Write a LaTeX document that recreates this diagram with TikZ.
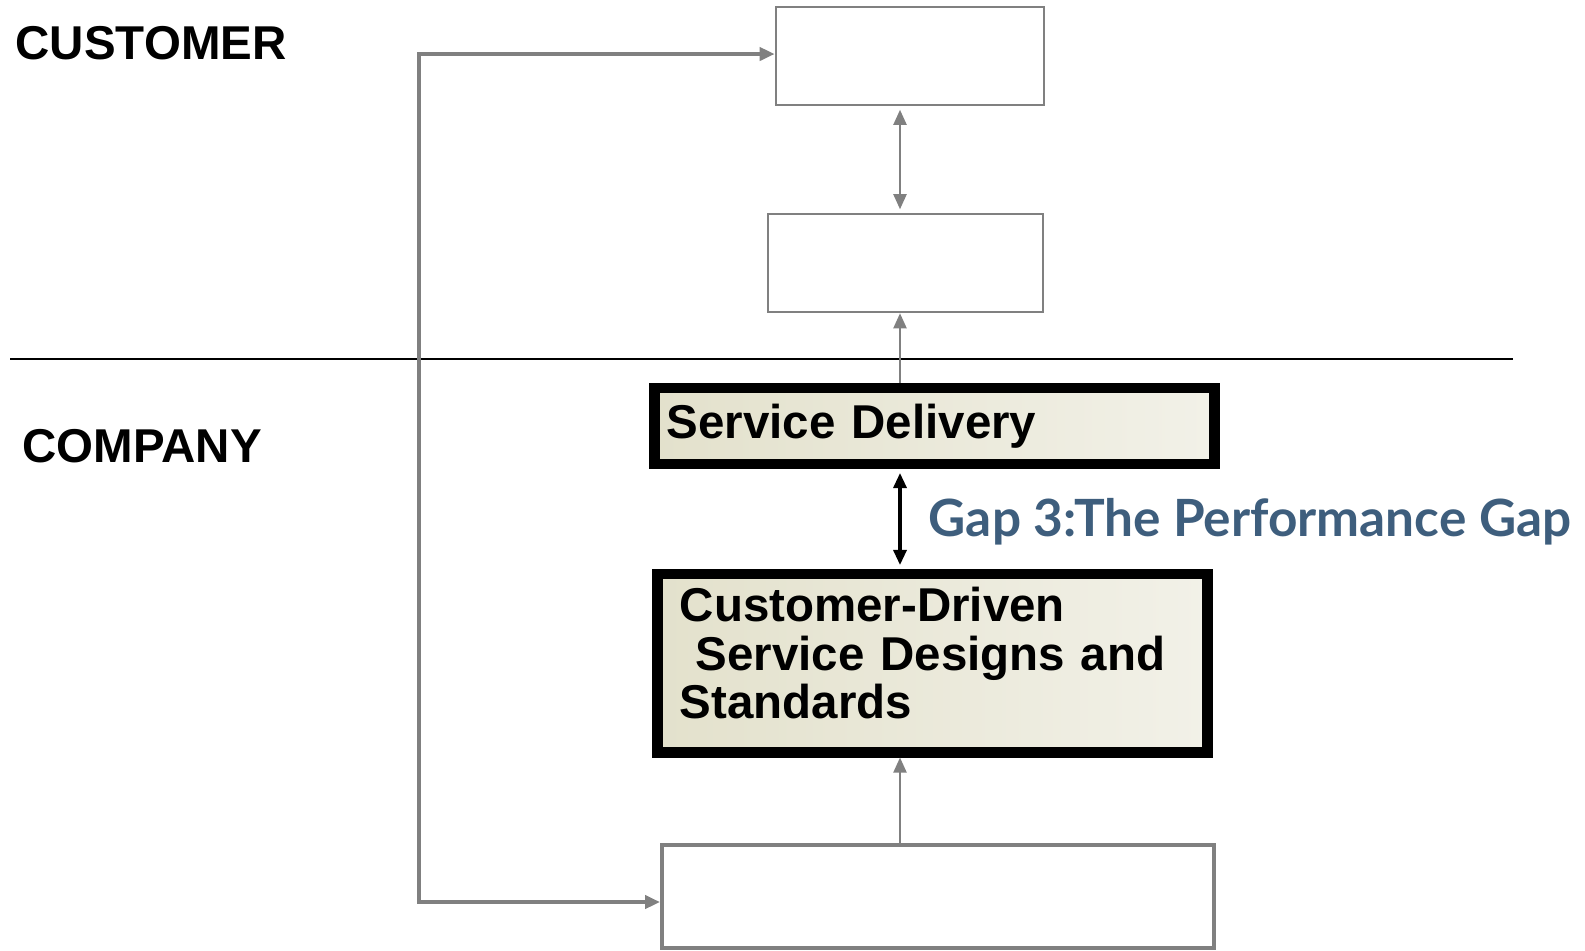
\documentclass[tikz,border=0pt]{standalone}
\usepackage{fontspec}
\setmainfont{Liberation Sans}
\newfontfamily\gapfont{Lato}
\usepackage{tikz}
\usetikzlibrary{arrows.meta,positioning}
\usepackage{xcolor}
\definecolor{gpgray}{RGB}{128,128,128}
\definecolor{gpblue}{RGB}{62,94,125}
\definecolor{gpbeige}{RGB}{227,225,204}
\definecolor{gplight}{RGB}{242,241,232}
\tikzstyle{sidelabel} = [anchor=base west, inner sep=0pt, font=\fontsize{13.5}{13.9}\selectfont\bfseries]
\tikzstyle{emptybox} = [draw=gpgray, line width=0.7pt, fill=white, inner sep=0pt]
\tikzstyle{gapbox} = [draw=black, line width=3.1pt, left color=gpbeige, right color=gplight, align=left, inner ysep=0.1cm, font=\fontsize{13.5}{13.9}\selectfont\bfseries]
\tikzstyle{arrow} = [draw=gpgray, line width=0.6pt]
\tikzstyle{feedback} = [draw=gpgray, line width=1.3pt]
\tikzstyle{gaparrow} = [draw=black, line width=0.9pt]
\tikzstyle{gaplabel} = [anchor=base west, inner sep=0pt, text=gpblue, font=\gapfont\bfseries\fontsize{14.6}{16}\selectfont]

\begin{document}
\begin{tikzpicture}[x=0.01cm, y=-0.01cm, >={Triangle[length=0.15cm,width=0.13cm]}]
\useasboundingbox (0,0) rectangle (1585,950);

% Sides
\node[sidelabel] (customer) at (15,59) {CUSTOMER};
\node[sidelabel] (company) at (22,462) {COMPANY};
\draw[line width=0.6pt] (10,359) -- (1513,359);

% Boxes
\node[emptybox, minimum width=2.68cm, minimum height=0.98cm] (expected) at (910,56) {};
\node[emptybox, minimum width=2.75cm, minimum height=0.98cm] (perceived) at (905.5,263) {};
\node[gapbox, minimum width=5.59cm, minimum height=0.76cm, text width=5.35cm, inner xsep=0.12cm] (delivery) at (934.5,426) {Service Delivery};
\node[gapbox, minimum width=5.49cm, minimum height=1.78cm, text width=5.05cm, inner xsep=0.22cm, text depth=1.18cm] (design) at (932.5,663) {Customer-Driven\\~Service Designs and\\Standards};
\node[emptybox, line width=1pt, minimum width=5.52cm, minimum height=1.03cm] (perception) at (938,896.5) {};

% Connectors
\coordinate (spine) at (900,0);
\coordinate (fbleft) at (419,500);
\draw[arrow, <->, shorten <=1pt, shorten >=1pt] (expected.south -| spine) -- (perceived.north -| spine);
\draw[arrow, ->] (delivery.north -| spine) -- (perceived.south -| spine);
\draw[gaparrow, <->, shorten <=1pt, shorten >=1pt] (delivery.south -| spine) -- (design.north -| spine);
\draw[arrow, ->] (perception.north -| spine) -- (design.south -| spine);
\draw[feedback, <->] ([yshift=0.02cm]expected.west) -| (fbleft) |- ([yshift=-0.055cm]perception.west);

% Gap
\node[gaplabel] (gaptext) at (928,536) {Gap 3:The Performance Gap};
\end{tikzpicture}
\end{document}
